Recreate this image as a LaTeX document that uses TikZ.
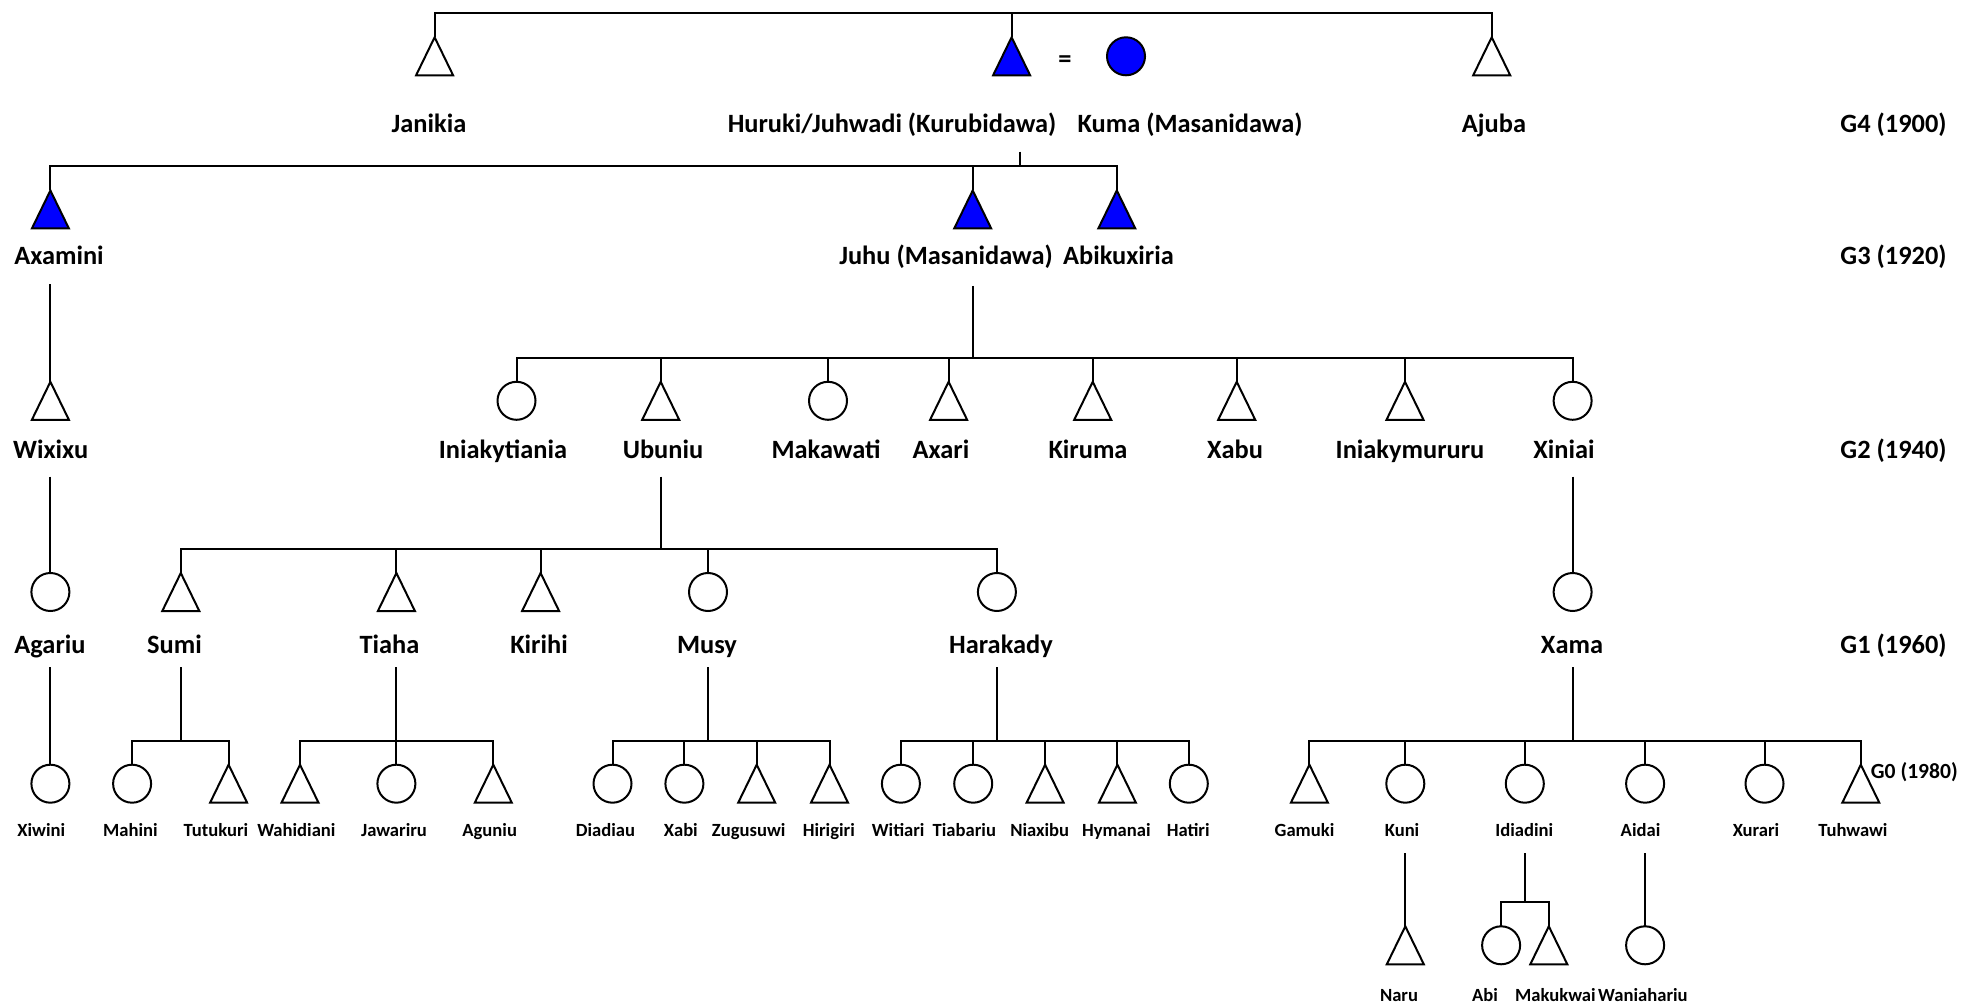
\documentclass[tikz,border=0pt]{standalone}
\usepackage{fontspec}
\setmainfont{Carlito}
\definecolor{kin}{RGB}{0,0,255}
% a man: triangle drawn on the anchors of an empty box node
\newcommand{\pmale}[4][white]{%
  \node[box] (#2) at (#3,#4) {};
  \draw[link,fill=#1] (#2.south west) -- (#2.north) -- (#2.south east) -- cycle;}
% a woman: circle node
\newcommand{\pfem}[4][white]{\node[fem,fill=#1] (#2) at (#3,#4) {};}
% stem from a parent down to a bar, then one drop to each child
\newcommand{\sibs}[3]{%
  \draw[link] (#1) -- (#1 |- 0,#2);
  \foreach \c in {#3} {\draw[link] (#1 |- 0,#2) -| (\c.north);}}
\begin{document}
\begin{tikzpicture}[x=0.5pt,y=-0.5pt,
  link/.style={line width=1pt},
  box/.style={rectangle,minimum width=18.5pt,minimum height=19pt,inner sep=0pt,outer sep=0pt},
  fem/.style={circle,draw,line width=1pt,minimum size=19pt,inner sep=0pt,outer sep=0pt},
  big/.style={font=\bfseries\fontsize{13.2}{15}\selectfont,anchor=base,inner sep=0pt},
  small/.style={font=\bfseries\fontsize{9.3}{11}\selectfont,anchor=base,inner sep=0pt},
  gen/.style={big,anchor=base east},
]
\useasboundingbox (0,0) rectangle (1962,1004);

% ---- G4
\pmale{janikia}{434.6}{56.3}
\pmale[kin]{huruki}{1011.6}{56.3}
\pfem[kin]{kuma}{1126}{56.3}
\pmale{ajuba}{1491.7}{56.3}
\node[font=\bfseries\fontsize{13.2}{15}\selectfont,inner sep=0pt] (eq) at (1065,61.7) {=};
\node[big] (janikiaL) at (429,133) {Janikia};
\node[big] (hurukiL) at (892,133) {Huruki/Juhwadi (Kurubidawa)};
\node[big] (kumaL) at (1190,133) {Kuma (Masanidawa)};
\node[big] (ajubaL) at (1494,133) {Ajuba};
\node[gen] (g4) at (1947,133) {G4 (1900)};
\draw[link] (janikia.north) -- (janikia.north |- 0,13.3) -- (ajuba.north |- 0,13.3) -- (ajuba.north);
\draw[link] (huruki.north) -- (huruki.north |- 0,13.3);

% ---- G3
\pmale[kin]{axamini}{50.4}{209.5}
\pmale[kin]{juhu}{972.7}{209.5}
\pmale[kin]{abikuxiria}{1116.8}{209.5}
\node[big] (axaminiL) at (59,264.2) {Axamini};
\node[big] (juhuL) at (946,264.2) {Juhu (Masanidawa)};
\node[big] (abikuxiriaL) at (1118.5,264.2) {Abikuxiria};
\node[gen] (g3) at (1947,264.2) {G3 (1920)};
\coordinate (couple) at (1020.3,151.7);
\sibs{couple}{166}{axamini,juhu,abikuxiria}

% ---- G2
\pmale{wixixu}{50.4}{400.8}
\pfem{iniakytiania}{516.5}{400.8}
\pmale{ubuniu}{660.7}{400.8}
\pfem{makawati}{828}{400.8}
\pmale{axari}{948.6}{400.8}
\pmale{kiruma}{1092.7}{400.8}
\pmale{xabu}{1236.7}{400.8}
\pmale{iniakymururu}{1405}{400.8}
\pfem{xiniai}{1572.6}{400.8}
\node[big] (wixixuL) at (50.7,458.5) {Wixixu};
\node[big] (iniakytianiaL) at (503,458.5) {Iniakytiania};
\node[big] (ubuniuL) at (663,458.5) {Ubuniu};
\node[big] (makawatiL) at (826,458.5) {Makawati};
\node[big] (axariL) at (941,458.5) {Axari};
\node[big] (kirumaL) at (1088,458.5) {Kiruma};
\node[big] (xabuL) at (1235,458.5) {Xabu};
\node[big] (iniakymururuL) at (1410,458.5) {Iniakymururu};
\node[big] (xiniaiL) at (1564,458.5) {Xiniai};
\node[gen] (g2) at (1947,458.5) {G2 (1940)};
\coordinate (axaminiS) at (50.4,284.3);
\draw[link] (axaminiS) -- (wixixu.north);
\coordinate (juhuS) at (972.7,286);
\sibs{juhuS}{358.3}{iniakytiania,ubuniu,makawati,axari,kiruma,xabu,iniakymururu,xiniai}

% ---- G1
\pfem{agariu}{50.4}{592}
\pmale{sumi}{180.8}{592}
\pmale{tiaha}{396.4}{592}
\pmale{kirihi}{540.6}{592}
\pfem{musy}{708}{592}
\pfem{harakady}{996.9}{592}
\pfem{xama}{1572.6}{592}
\node[big] (agariuL) at (50,653.2) {Agariu};
\node[big] (sumiL) at (174.5,653.2) {Sumi};
\node[big] (tiahaL) at (389.5,653.2) {Tiaha};
\node[big] (kirihiL) at (539,653.2) {Kirihi};
\node[big] (musyL) at (707,653.2) {Musy};
\node[big] (harakadyL) at (1001,653.2) {Harakady};
\node[big] (xamaL) at (1572,653.2) {Xama};
\node[gen] (g1) at (1947,653.2) {G1 (1960)};
\coordinate (wixixuS) at (50.4,476.7);
\draw[link] (wixixuS) -- (agariu.north);
\coordinate (ubuniuS) at (660.7,476.7);
\sibs{ubuniuS}{549.3}{sumi,tiaha,kirihi,musy,harakady}
\coordinate (xiniaiS) at (1572.6,476.7);
\draw[link] (xiniaiS) -- (xama.north);

% ---- G0
\pfem{xiwini}{50.4}{783.7}
\pfem{mahini}{132.1}{783.7}
\pmale{tutukuri}{228.6}{783.7}
\pmale{wahidiani}{300}{783.7}
\pfem{jawariru}{396.4}{783.7}
\pmale{aguniu}{493.3}{783.7}
\pfem{diadiau}{612.5}{783.7}
\pfem{xabi}{684.4}{783.7}
\pmale{zugusuwi}{756.7}{783.7}
\pmale{hirigiri}{829.5}{783.7}
\pfem{witiari}{900.9}{783.7}
\pfem{tiabariu}{973.2}{783.7}
\pmale{niaxibu}{1045.1}{783.7}
\pmale{hymanai}{1117.4}{783.7}
\pfem{hatiri}{1188.8}{783.7}
\pmale{gamuki}{1309.4}{783.7}
\pfem{kuni}{1405.3}{783.7}
\pfem{idiadini}{1524.8}{783.7}
\pfem{aidai}{1645.1}{783.7}
\pfem{xurari}{1764.5}{783.7}
\pmale{tuhwawi}{1860.8}{783.7}
\node[small] (xiwiniL) at (41.3,836.2) {Xiwini};
\node[small] (mahiniL) at (130.4,836.2) {Mahini};
\node[small] (tutukuriL) at (216,836.2) {Tutukuri};
\node[small] (wahidianiL) at (296.4,836.2) {Wahidiani};
\node[small] (jawariruL) at (394,836.2) {Jawariru};
\node[small] (aguniuL) at (489.7,836.2) {Aguniu};
\node[small] (diadiauL) at (605.4,836.2) {Diadiau};
\node[small] (xabiL) at (680.8,836.2) {Xabi};
\node[small] (zugusuwiL) at (748.7,836.2) {Zugusuwi};
\node[small] (hirigiriL) at (828.8,836.2) {Hirigiri};
\node[small] (witiariL) at (898.2,836.2) {Witiari};
\node[small] (tiabariuL) at (964.3,836.2) {Tiabariu};
\node[small] (niaxibuL) at (1039.7,836.2) {Niaxibu};
\node[small] (hymanaiL) at (1116.3,836.2) {Hymanai};
\node[small] (hatiriL) at (1188.2,836.2) {Hatiri};
\node[small] (gamukiL) at (1304.5,836.2) {Gamuki};
\node[small] (kuniL) at (1402,836.2) {Kuni};
\node[small] (idiadiniL) at (1524.3,836.2) {Idiadini};
\node[small] (aidaiL) at (1640.5,836.2) {Aidai};
\node[small] (xurariL) at (1756,836.2) {Xurari};
\node[small] (tuhwawiL) at (1852.9,836.2) {Tuhwawi};
\node[font=\bfseries\fontsize{10.8}{12}\selectfont,anchor=base west,inner sep=0pt] (g0) at (1870.5,778.5) {G0 (1980)};
\coordinate (agariuS) at (50.4,667.3);
\draw[link] (agariuS) -- (xiwini.north);
\coordinate (sumiS) at (180.8,667.3);
\sibs{sumiS}{740.7}{mahini,tutukuri}
\coordinate (tiahaS) at (396.4,667.3);
\sibs{tiahaS}{740.7}{wahidiani,jawariru,aguniu}
\coordinate (musyS) at (708,667.3);
\sibs{musyS}{740.7}{diadiau,xabi,zugusuwi,hirigiri}
\coordinate (harakadyS) at (996.9,667.3);
\sibs{harakadyS}{740.7}{witiari,tiabariu,niaxibu,hymanai,hatiri}
\coordinate (xamaS) at (1573.3,667.3);
\sibs{xamaS}{740.7}{gamuki,kuni,idiadini,aidai,xurari,tuhwawi}

% ---- next generation below G0
\pmale{naru}{1405.3}{945.3}
\pfem{abi}{1501.1}{945.3}
\pmale{makukwai}{1548.8}{945.3}
\pfem{waniahariu}{1645.1}{945.3}
\node[small] (naruL) at (1399,1001.2) {Naru};
\node[small] (abiL) at (1485,1001.2) {Abi};
\node[small] (makukwaiL) at (1555.4,1001.2) {Makukwai};
\node[small] (waniahariuL) at (1642.9,1001.2) {Waniahariu};
\coordinate (kuniS) at (1405.3,853.3);
\draw[link] (kuniS) -- (naru.north);
\coordinate (idiadiniS) at (1524.8,853.3);
\sibs{idiadiniS}{901.7}{abi,makukwai}
\coordinate (aidaiS) at (1645.1,853.3);
\draw[link] (aidaiS) -- (waniahariu.north);
\end{tikzpicture}
\end{document}
